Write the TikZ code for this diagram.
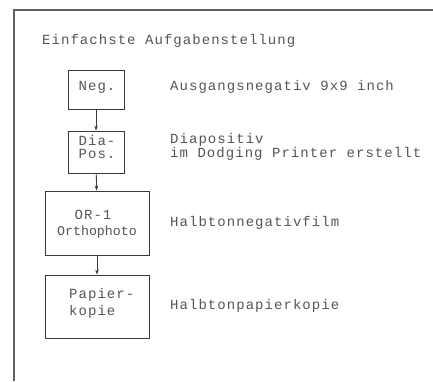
\documentclass[tikz,border=0pt]{standalone}
\usepackage{fontspec}
\setmainfont[LetterSpace=7.5]{Liberation Mono}
\newfontfamily\twsmall{Liberation Mono}
\usetikzlibrary{arrows.meta}
\definecolor{ink}{HTML}{3A3A3A}
\definecolor{txt}{HTML}{555555}
\tikzset{
  stepbox/.style={draw=ink, line width=0.9pt, inner sep=0pt},
  lbl/.style={anchor=base west, inner sep=0pt, text=txt, font=\fontsize{14}{11.7}\selectfont, align=left},
  flow/.style={draw=ink, line width=0.8pt, -{Stealth[length=5pt,width=3.6pt]}},
  frameline/.style={draw=ink!80, line width=1.3pt}
}
\begin{document}
\begin{tikzpicture}[x=1pt,y=-1pt]
\useasboundingbox (0,0) rectangle (433,381);
\coordinate (fl) at (14,381);
\coordinate (fc) at (14,10);
\coordinate (fr) at (433,10);
\draw[frameline] (fl) -- (fc) -- (fr);

\node[lbl] (title) at (42,44.3) {Einfachste Aufgabenstellung};

\node[stepbox, minimum width=56pt, minimum height=39pt] (neg) at (96,89.5) {};
\node[stepbox, minimum width=56pt, minimum height=42pt] (dia) at (96,152) {};
\node[stepbox, minimum width=104pt, minimum height=64pt] (or) at (97,223) {};
\node[stepbox, minimum width=104pt, minimum height=63pt] (pap) at (97,306.5) {};

\node[lbl, anchor=base] (negtxt) at (97,90.5) {Neg.};
\node[lbl, anchor=base, align=center, font=\fontsize{14}{12.5}\selectfont] (diatxt) at (97,158) {Dia-\\Pos.};
\node[lbl, anchor=base] (ortxt1) at (93,219.3) {OR-1};
\node[lbl, anchor=base, font=\twsmall\fontsize{13.3}{15}\selectfont] (ortxt2) at (97,235) {Orthophoto};
\node[lbl, font=\fontsize{14}{17}\selectfont] (paptxt) at (69,315) {Papier-\\kopie};

\draw[flow] (neg) -- (dia);
\draw[flow] (dia) -- (or);
\draw[flow] (or) -- (pap);

\node[lbl] (l1) at (170,90.7) {Ausgangsnegativ 9x9 inch};
\node[lbl, font=\fontsize{14}{12}\selectfont] (l2) at (170,157.5) {Diapositiv\\im Dodging Printer erstellt};
\node[lbl] (l3) at (170,226.7) {Halbtonnegativfilm};
\node[lbl] (l4) at (170,309) {Halbtonpapierkopie};
\end{tikzpicture}
\end{document}
